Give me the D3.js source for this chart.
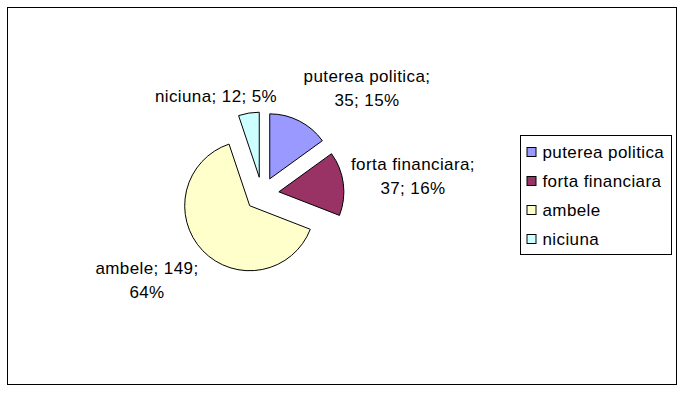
<!DOCTYPE html>
<html>
<head>
<meta charset="utf-8">
<script src="https://cdn.jsdelivr.net/npm/d3@7"></script>
<style>
  html, body { margin: 0; padding: 0; background: #fff; }
  svg text { font-family: "Liberation Sans", Arial, sans-serif; font-size: 17px; fill: #000; letter-spacing: 0.4px; }
</style>
</head>
<body>
<svg id="chart" width="685" height="393"></svg>
<script>
// ---- data ----
const categories = ["puterea politica", "forta financiara", "ambele", "niciuna"];
const values = [35, 37, 149, 12];
const colors = ["#9999FF", "#993366", "#FFFFCC", "#CCFFFF"];
// how each data label is broken into lines (text only)
const labelBreaks = [1, 1, 2, 3]; // number of "; "-separated parts on line 1

// ---- layout ----
const W = 685, H = 393;
const cx = 262, cy = 194, R = 65, explode = 17;
// label block anchors relative to pie center (x center, first baseline)
const labelOffsets = [[105, -112], [151, -24], [-115, 80], [-46, -92]];
const lineGap = 24;

const svg = d3.select("#chart");

// chart border
svg.append("rect")
  .attr("x", 7.5).attr("y", 7.5)
  .attr("width", 669).attr("height", 377)
  .attr("fill", "#fff").attr("stroke", "#000").attr("stroke-width", 1);

const total = d3.sum(values);
const pct = d3.format(".0%");
const data = categories.map((c, i) => ({ name: c, value: values[i], color: colors[i], i }));

const pie = d3.pie().value(d => d.value).sort(null).startAngle(0).endAngle(2 * Math.PI);
const arc = d3.arc().innerRadius(0).outerRadius(R);
const arcs = pie(data);

const g = svg.append("g").attr("transform", `translate(${cx},${cy})`);

g.selectAll("path.slice")
  .data(arcs)
  .join("path")
  .attr("class", "slice")
  .attr("d", arc)
  .attr("fill", d => d.data.color)
  .attr("stroke", "#000")
  .attr("stroke-width", 1)
  .attr("stroke-linejoin", "round")
  .attr("transform", d => {
    const a = (d.startAngle + d.endAngle) / 2;
    return `translate(${explode * Math.sin(a)},${-explode * Math.cos(a)})`;
  });

// data labels
arcs.forEach((d, k) => {
  const parts = [d.data.name, String(d.data.value), pct(d.data.value / total)];
  const n = labelBreaks[k];
  const line1 = parts.slice(0, n).join("; ") + (n < 3 ? ";" : "");
  const line2 = n < 3 ? parts.slice(n).join("; ") : null;
  const lines = line2 ? [line1, line2] : [line1];
  const t = g.append("text")
    .attr("text-anchor", "middle")
    .attr("x", labelOffsets[k][0])
    .attr("y", labelOffsets[k][1]);
  lines.forEach((ln, j) => {
    t.append("tspan")
      .attr("x", labelOffsets[k][0])
      .attr("dy", j === 0 ? 0 : lineGap)
      .text(ln);
  });
});

// legend
const lx = 520.5, ly = 135.5, lw = 151, lh = 119;
svg.append("rect")
  .attr("x", lx).attr("y", ly).attr("width", lw).attr("height", lh)
  .attr("fill", "#fff").attr("stroke", "#000").attr("stroke-width", 1);

const ly0 = d3.scaleBand().domain(categories).range([ly + 2, ly + lh - 1]);
const leg = svg.append("g").selectAll("g")
  .data(data)
  .join("g")
  .attr("transform", d => `translate(${lx + 6},${ly0(d.name) + ly0.bandwidth() / 2})`);
leg.append("rect")
  .attr("x", 0.5).attr("y", -4.5).attr("width", 9).attr("height", 9)
  .attr("fill", d => d.color).attr("stroke", "#000").attr("stroke-width", 1);
leg.append("text")
  .attr("x", 16).attr("y", 6)
  .text(d => d.name);
</script>
</body>
</html>
